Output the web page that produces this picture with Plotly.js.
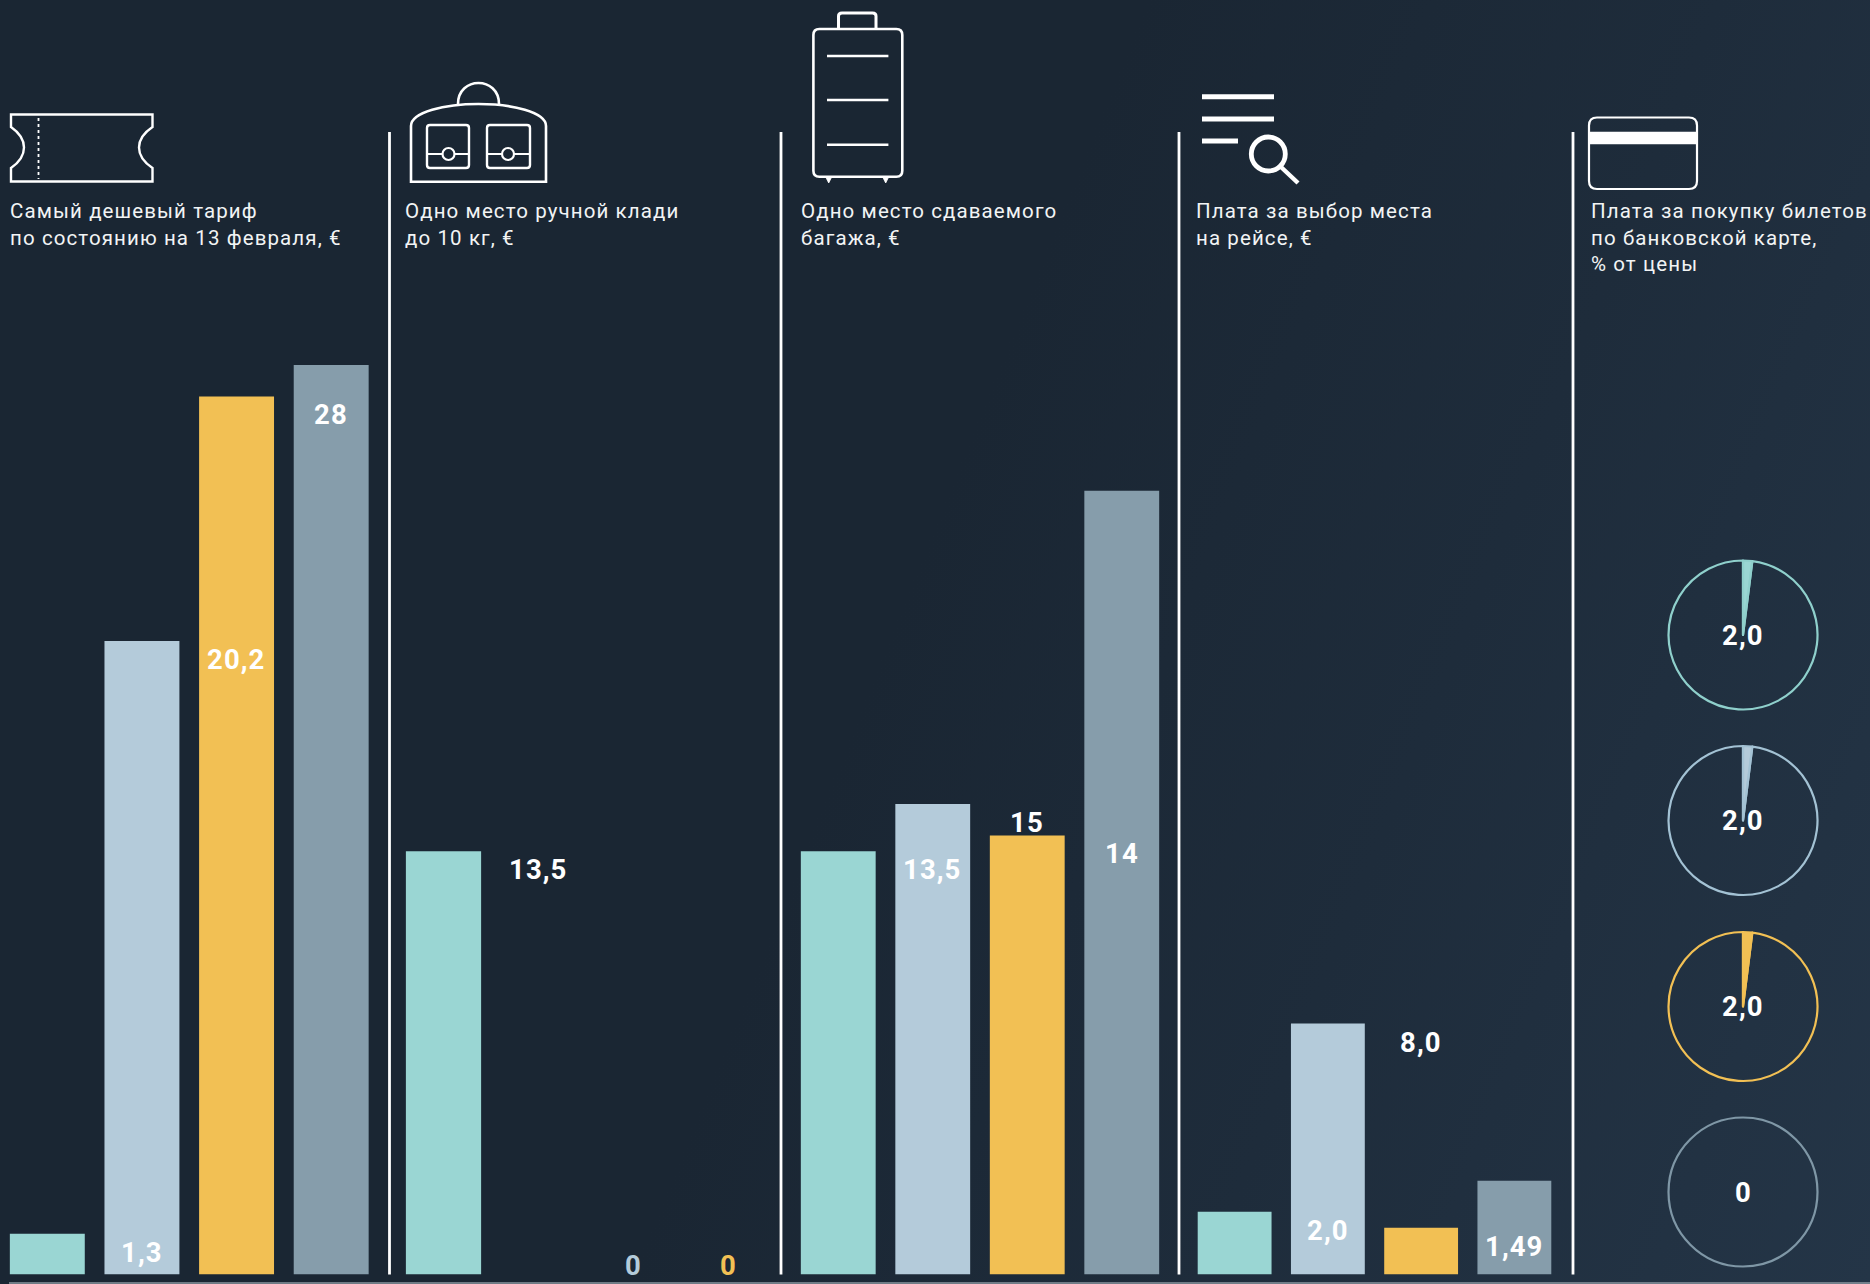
<!DOCTYPE html>
<html><head><meta charset="utf-8">
<script src="https://cdn.plot.ly/plotly-3.0.1.min.js"></script>
<style>
html,body{margin:0;padding:0;width:1870px;height:1284px;overflow:hidden;background:#1a2633}
#bg{position:absolute;left:0;top:0;width:1870px;height:1284px;background:linear-gradient(112deg,#1a2633 0%,#1a2633 48%,#1e2c3b 72%,#243547 100%)}
#chart{position:absolute;left:0;top:0;width:1870px;height:1284px}
.annotation-text{letter-spacing:1.1px}
</style></head><body>
<div id="bg"></div><div id="chart"></div>
<script>
// ---------- data ----------
const carriers = ["1","2","3","4"];
const fare     = [1.3, 20.2, 28, 29];
const cabinBag = [13.5, 0, 0, 0];
const holdBag  = [13.5, 15, 14, 24.99];
const seatFee  = [2.0, 8.0, 1.49, 2.99];
const cardFee  = [2.0, 2.0, 2.0, 0];
const fareLabels  = ["1,3","20,2","28","29"];
const cabinLabels = ["13,5","0","0","0"];
const holdLabels  = ["13,5","15","14","24,99"];
const seatLabels  = ["2,0","8,0","1,49","2,99"];
const cardLabels  = ["2,0","2,0","2,0","0"];
const colors = ["#9AD6D3","#B4CBDA","#F2C054","#869DAB"];
const ringColors = ["#8fd0cc","#a3c2d4","#f2c054","#7f97a6"];
const headers = [
  "Самый дешевый тариф<br>по состоянию на 13 февраля, €",
  "Одно место ручной клади<br>до 10 кг, €",
  "Одно место сдаваемого<br>багажа, €",
  "Плата за выбор места<br>на рейсе, €",
  "Плата за покупку билетов<br>по банковской карте,<br>% от цены"
];

// ---------- layout helpers ----------
const W = 1870, H = 1284;
const px = v => v / W, py = v => 1 - v / H;
const BASE = 1274.5, PX_PER_UNIT = 31.36, TOP = 300;
const panelX = [[-0.5,378.5],[396,776],[791,1169],[1188,1561]];
const headerX = [9,403.5,800,1194.5,1590];
const dividers = [389.5,781,1179,1573];
const pieCx = 1743, pieCy = [635,820.5,1006.5,1192], pieR = 74.5;
const TF = "Roboto,sans-serif";

function P(d){
  let i = 0;
  return d.replace(/-?\d+(\.\d+)?/g, m => { const v=+m; const o=(i++%2===0)?px(v):py(v); return o.toFixed(5); });
}
const WHITE = "#ffffff";
function icon(d, width, fill, dash){
  return {type:"path", xref:"paper", yref:"paper", path:P(d),
    line:{color:WHITE,width:width,dash:dash||"solid"}, fillcolor:fill||"rgba(0,0,0,0)", layer:"above"};
}
function rr(x0,y0,x1,y1,r){
  return `M${x0+r} ${y0} L${x1-r} ${y0} Q${x1} ${y0} ${x1} ${y0+r} L${x1} ${y1-r} Q${x1} ${y1} ${x1-r} ${y1} L${x0+r} ${y1} Q${x0} ${y1} ${x0} ${y1-r} L${x0} ${y0+r} Q${x0} ${y0} ${x0+r} ${y0} Z`;
}
function circ(cx,cy,r){
  const k=r*0.5523;
  return `M${cx-r} ${cy} C${cx-r} ${cy-k} ${cx-k} ${cy-r} ${cx} ${cy-r} C${cx+k} ${cy-r} ${cx+r} ${cy-k} ${cx+r} ${cy} C${cx+r} ${cy+k} ${cx+k} ${cy+r} ${cx} ${cy+r} C${cx-k} ${cy+r} ${cx-r} ${cy+k} ${cx-r} ${cy} Z`;
}

// ---------- traces ----------
const panels = [[fare,fareLabels],[cabinBag,cabinLabels],[holdBag,holdLabels],[seatFee,seatLabels]];
const traces = panels.map(([vals],i)=>({
  type:"bar", x:carriers, y:vals, xaxis:i?`x${i+1}`:"x", yaxis:"y",
  marker:{color:colors,line:{width:0}}, hoverinfo:"skip", showlegend:false
}));
cardFee.forEach((v,i)=>{
  traces.push({type:"pie", values:v>0?[v,100-v]:[100], sort:false, direction:"clockwise", rotation:0,
    domain:{x:[px(pieCx-pieR),px(pieCx+pieR)], y:[py(pieCy[i]+pieR),py(pieCy[i]-pieR)]},
    marker:{colors:v>0?[colors[i],"rgba(0,0,0,0)"]:["rgba(0,0,0,0)"], line:{color:ringColors[i],width:2.2}},
    textinfo:"none", hoverinfo:"skip", showlegend:false});
});

// ---------- layout ----------
const layout = {
  width:W, height:H, margin:{l:0,r:0,t:0,b:0}, autosize:false,
  paper_bgcolor:"rgba(0,0,0,0)", plot_bgcolor:"rgba(0,0,0,0)",
  barmode:"group", bargap:0.208, showlegend:false,
  font:{family:TF,color:WHITE},
  yaxis:{domain:[py(BASE),py(TOP)], range:[0,(BASE-TOP)/PX_PER_UNIT], visible:false, fixedrange:true},
  annotations:[], shapes:[]
};
panelX.forEach((d,i)=>{
  layout[i?`xaxis${i+1}`:"xaxis"]={domain:[Math.max(0,px(d[0])),px(d[1])], range:[-0.5,3.5], type:"category",
    categoryorder:"array", categoryarray:carriers, visible:false, anchor:"y", fixedrange:true};
});
panels.forEach(([vals,labels],i)=>{
  vals.forEach((v,k)=>{
    layout.annotations.push({xref:i?`x${i+1}`:"x",yref:"y",x:carriers[k],y:v,xanchor:"center",yanchor:"middle",
      yshift:v===0?9.5:-18.5,showarrow:false,text:labels[k],borderpad:0,
      font:{family:TF,size:27.5,weight:700,color:v===0?colors[k]:WHITE}});
  });
});
headers.forEach((t,i)=>{
  layout.annotations.push({xref:"paper",yref:"paper",x:px(headerX[i]),y:py(198),xanchor:"left",yanchor:"top",
    align:"left",showarrow:false,text:t,font:{family:"Roboto",size:20.5,color:"#f2f4f5"},borderpad:0});
});
cardLabels.forEach((t,i)=>{
  layout.annotations.push({xref:"paper",yref:"paper",x:px(pieCx),y:py(pieCy[i]),xanchor:"center",yanchor:"middle",
    showarrow:false,text:t,font:{family:TF,size:27.5,color:WHITE,weight:700},borderpad:0});
});
dividers.forEach(x=>layout.shapes.push({type:"line",xref:"paper",yref:"paper",x0:px(x),x1:px(x),y0:py(132),y1:py(BASE),line:{color:WHITE,width:2.8}}));
layout.shapes.push({type:"line",xref:"paper",yref:"paper",x0:px(9),x1:1,y0:py(1283),y1:py(1283),line:{color:"#8d98a2",width:1.5}});

// ticket
layout.shapes.push(icon("M11 114.5 L152.5 114.5 L152.5 127 Q139 136 139 147.5 Q139 159 152.5 168 L152.5 181.5 L11 181.5 L11 168 Q24 159 24 147.5 Q24 136 11 127 Z",2.4));
layout.shapes.push(icon("M38.5 118 L38.5 179",1.8,null,"dot"));
// bag
layout.shapes.push(icon("M458 104 C458 76 499 76 499 104",2.6));
layout.shapes.push(icon("M411 181.7 L411 126 C411 112 445 104 478.5 104 C512 104 546 112 546 126 L546 181.7 Z",2.6));
[[427,469,448.5],[487,530,508]].forEach(b=>{
  layout.shapes.push(icon(rr(b[0],125,b[1],168,3),2.4));
  layout.shapes.push(icon(`M${b[0]} 154 L${b[2]-6} 154 M${b[2]+6} 154 L${b[1]} 154`,2.2));
  layout.shapes.push(icon(circ(b[2],154,6),2.2));
});
// suitcase
layout.shapes.push(icon("M838.5 29 L838.5 16 Q838.5 13 842 13 L872.5 13 Q876 13 876 16 L876 29",3));
layout.shapes.push(icon(rr(813.4,29,902.3,176.7,6),2.6));
[56,100,144.7].forEach(y=>layout.shapes.push(icon(`M827 ${y} L888.4 ${y}`,2.6)));
[828.7,885.7].forEach(x=>layout.shapes.push(icon(`M${x-3} 177 L${x+3} 177 L${x} 183 Z`,0.8,WHITE)));
// search
layout.shapes.push(icon("M1202 96.7 L1274 96.7",5));
layout.shapes.push(icon("M1202 119 L1274 119",5));
layout.shapes.push(icon("M1202 141 L1238 141",5));
layout.shapes.push(icon(circ(1268.3,154,17),4.8));
layout.shapes.push(icon("M1281 167 L1298 183",4.4));
// card
layout.shapes.push(icon(rr(1589,117.5,1697,189,8),2.2));
layout.shapes.push(icon("M1589 132 L1697 132 L1697 144 L1589 144 Z",0.5,WHITE));

Plotly.newPlot("chart",traces,layout,{staticPlot:true,displayModeBar:false});
</script></body></html>
